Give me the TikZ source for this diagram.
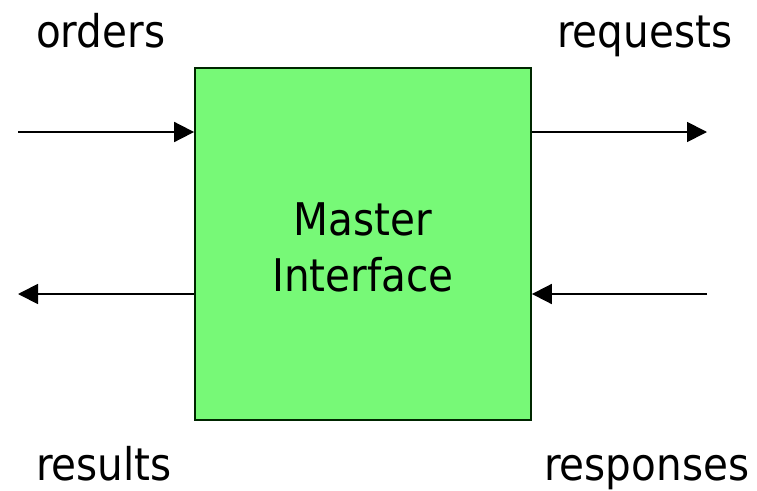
\documentclass[tikz,border=0pt]{standalone}
\usepackage{fontspec}
\setmainfont{DejaVu Sans Condensed}
\usetikzlibrary{arrows.meta}
\definecolor{boxgreen}{RGB}{119,249,119}
\begin{document}
\begin{tikzpicture}[x=1pt,y=-1pt,
  lbl/.style={font=\fontsize{45}{54}\selectfont, inner sep=0pt, anchor=base west},
  flow/.style={line width=1.8pt, -{Triangle[length=20pt,width=20pt]}},
  block/.style={draw=black!85!green, line width=1.8pt, fill=boxgreen,
    minimum width=336pt, minimum height=352pt, inner sep=0pt,
    font=\fontsize{45}{56}\selectfont, align=center}]
  \useasboundingbox (0,0) rectangle (757,490);
  \node[block] (mi) at (363,244) {\rule{0pt}{40pt}Master\\Interface};
  % free ends of the four connectors
  \coordinate (inL)  at (18,132);
  \coordinate (outR) at (707,132);
  \coordinate (outL) at (18,294);
  \coordinate (inR)  at (707,294);
  \draw[flow] (inL) -- (inL -| mi.west);
  \draw[flow] (outR -| mi.east) -- (outR);
  \draw[flow] (outL -| mi.west) -- (outL);
  \draw[flow] (inR) -- (inR -| mi.east);
  \node[lbl] (orders)    at (36,47)  {orders};
  \node[lbl] (requests)  at (557,47) {requests};
  \node[lbl] (results)   at (36,480) {results};
  \node[lbl] (responses) at (544,480) {responses};
\end{tikzpicture}
\end{document}
